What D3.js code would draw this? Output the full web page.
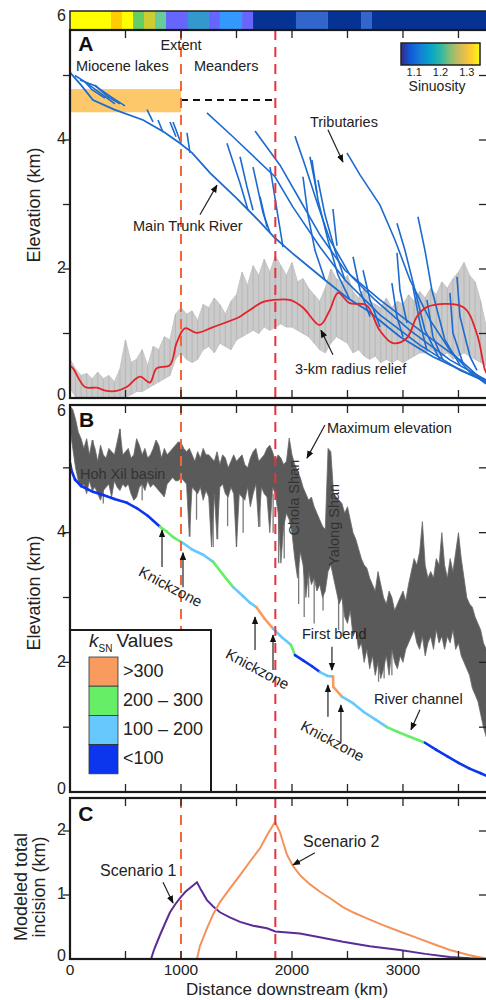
<!DOCTYPE html>
<html>
<head>
<meta charset="utf-8">
<script src="https://cdn.jsdelivr.net/npm/d3@7"></script>
<style>
  body { margin: 0; background: #fff; }
  svg { display: block; font-family: "Liberation Sans", Arial, Helvetica, sans-serif; }
</style>
</head>
<body>
<div id="chart"></div>
<script>
// ---------- data (distance km, elevation km) ----------
const sinuosityKm  = [0, 369, 468, 568, 667, 766, 865, 1063, 1252, 1351, 1550, 1649, 2036, 2324, 2622, 2721];
const sinuosityVal = [1.36, 1.32, 1.36, 1.26, 1.30, 1.24, 1.12, 1.20, 1.12, 1.17, 1.12, 1.05, 1.09, 1.05, 1.09, 1.05];

// 3-km radius relief scatter, sampled every 50 km (low / high of the cloud)
const reliefKm = d3.range(0, 3751, 50);
const reliefHi = [0.6,0.45,0.35,0.38,0.3,0.4,0.3,0.35,0.25,0.45,
  0.9,0.55,0.6,0.75,0.5,0.8,0.75,0.95,0.9,1.3,
  1.4,1.3,1.35,1.2,1.45,1.4,1.55,1.45,1.3,1.5,
  1.6,1.95,1.75,2.05,1.9,2.15,1.95,2.2,2.05,1.9,
  2.1,1.8,1.85,1.7,1.6,1.5,1.7,2.0,1.85,1.8,
  1.9,1.65,1.55,1.7,1.5,1.45,1.4,1.55,1.4,1.5,
  1.45,1.6,1.5,1.65,1.55,1.7,1.6,1.8,1.7,1.85,
  1.95,2.1,1.9,1.8,1.5,1.1];
const reliefLo = [0.15,0.02,0.02,0.0,0.02,0.0,0.02,0.0,0.02,0.0,
  0.02,0.05,0.1,0.1,0.15,0.2,0.25,0.3,0.35,0.6,
  0.7,0.6,0.55,0.6,0.75,0.8,0.7,0.85,0.8,0.75,
  0.9,0.95,1.0,1.05,1.0,1.1,1.05,1.1,1.15,1.1,
  1.1,1.05,1.0,0.95,0.85,0.75,0.7,0.85,0.95,0.9,
  0.85,0.7,0.75,0.65,0.6,0.65,0.55,0.6,0.55,0.6,
  0.55,0.6,0.65,0.7,0.7,0.75,0.7,0.65,0.7,0.6,
  0.65,0.7,0.65,0.6,0.55,0.5];

// smoothed relief (red line)
const reliefLineKm   = [0,27,135,240,330,420,510,630,720,780,900,960,1035,1140,1290,1530,1590,1740,1830,1980,2100,2250,2340,2415,2520,2670,2790,2910,3035,3125,3215,3540,3665,3740,3766];
const reliefLineElev = [0.5,0.46,0.17,0.16,0.11,0.11,0.17,0.33,0.24,0.46,0.51,0.85,1.08,1.01,1.1,1.26,1.33,1.49,1.52,1.52,1.4,1.13,1.36,1.63,1.47,1.44,1.05,0.85,0.93,1.26,1.41,1.41,1.0,0.43,0.35];

// main trunk (panel A)
const trunkKm   = [0,100,207,400,658,850,991,1100,1261,1500,1700,1847,2000,2297,2500,2676,2973,3270,3577,3766];
const trunkElev = [5.05,4.85,4.62,4.47,4.31,4.12,3.95,3.8,3.49,3.1,2.75,2.48,2.25,1.83,1.55,1.36,0.95,0.64,0.39,0.26];

// tributaries [km, elev]
const tributaries = [
  [[45,5.0],[135,4.9],[270,4.73],[405,4.56]],
  [[90,4.93],[225,4.84],[360,4.68],[495,4.53]],
  [[135,4.9],[198,4.78],[315,4.65]],
  [[225,4.85],[342,4.67],[450,4.56]],
  [[694,4.47],[748,4.28]],
  [[793,4.31],[838,4.12]],
  [[901,4.28],[955,4.05]],
  [[928,4.28],[1000,3.95]],
  [[1054,4.11],[1081,3.8]],
  [[1414,3.95],[1532,3.33],[1604,2.91]],
  [[1532,3.74],[1595,3.27],[1649,2.91]],
  [[1649,3.58],[1739,2.87],[1802,2.56]],
  [[1712,3.12],[1775,2.65]],
  [[1802,3.58],[1865,2.91],[1919,2.34]],
  [[1234,4.42],[1468,4.05],[1847,3.43],[2009,2.96],[2252,2.34],[2477,1.83],[2793,1.29],[3153,0.82],[3514,0.43],[3748,0.25]],
  [[1667,4.14],[1892,3.61],[2072,3.07],[2252,2.53],[2477,1.98],[2793,1.52],[3153,1.05],[3514,0.59],[3748,0.23]],
  [[2027,4.06],[2117,3.61],[2234,2.99],[2342,2.45],[2522,1.91],[2748,1.52],[3063,1.05],[3423,0.59],[3748,0.28]],
  [[2495,3.8],[2613,3.46],[2793,2.99],[2928,2.45],[3063,1.83],[3243,1.21],[3423,0.74],[3604,0.4],[3748,0.22]],
  [[2180,3.69],[2234,3.07],[2324,2.45],[2414,1.91],[2522,1.52]],
  [[2234,3.38],[2297,2.84],[2387,2.29],[2477,1.83]],
  [[2162,3.74],[2225,3.18]],
  [[2099,3.43],[2144,2.84],[2207,2.29],[2297,1.83]],
  [[2369,2.93],[2405,2.36]],
  [[2900,1.78],[2946,1.26],[3000,0.95]],
  [[3090,1.72],[3153,1.16],[3216,0.74]],
  [[3216,1.52],[3270,0.95],[3360,0.59]],
  [[3486,1.88],[3514,1.26],[3604,0.64],[3667,0.43]],
  [[3423,1.63],[3450,1.01],[3540,0.54]],
  [[2550,2.19],[2613,1.67],[2703,1.26]],
  [[2640,1.98],[2703,1.52],[2793,1.1]],
  [[2946,2.25],[2973,1.67],[3036,1.16]],
  [[2946,2.71],[3018,2.29],[3108,1.67],[3198,1.05],[3333,0.59]],
  [[3135,2.81],[3198,2.29],[3261,1.67],[3378,0.9],[3514,0.51]]
];

// maximum elevation envelope, every 25 km
const maxKm = d3.range(0, 3751, 25);
const maxHi = [5.95,5.9,5.75,5.55,5.45,5.3,5.45,5.2,5.43,5.3,
  5.1,5.35,5.2,5.15,5.3,5.25,5.2,5.4,5.6,5.2,
  5.25,5.3,5.15,5.2,5.45,5.35,5.2,5.3,5.15,5.2,
  5.3,5.43,5.35,5.15,5.3,5.2,5.25,5.3,5.35,5.4,
  5.39,5.3,5.25,5.3,5.2,5.1,5.25,5.15,5.3,5.2,
  5.2,5.15,5.1,5.25,5.05,5.2,5.15,5.0,5.1,5.2,
  5.1,5.15,5.2,5.05,5.0,5.15,5.25,5.3,5.1,5.15,
  5.2,5.3,5.35,5.25,5.1,5.2,5.15,5.05,5.1,5.46,
  5.2,5.05,4.95,4.85,4.7,4.6,4.5,4.55,4.4,4.3,
  4.2,4.1,4.05,5.3,5.25,4.6,4.55,4.5,4.45,4.3,
  4.4,4.2,4.0,3.9,3.75,3.6,3.5,3.45,3.3,3.2,
  3.1,3.4,3.2,3.0,2.9,3.1,3.0,2.8,2.9,3.0,
  3.1,2.95,3.2,3.4,3.6,3.5,3.7,4.17,3.5,3.3,
  3.4,3.3,3.6,3.5,4.0,3.5,3.3,3.6,3.4,3.7,
  4.0,3.6,3.3,3.0,2.9,2.85,2.7,2.6,2.5,2.3,2.2];
const maxLo = [5.6,5.3,5.0,4.8,4.7,4.75,4.6,4.8,4.65,4.7,
  4.6,4.5,4.65,4.7,4.75,4.55,4.8,4.7,4.65,4.75,
  4.7,4.75,4.6,4.5,4.55,4.7,4.75,4.65,4.8,4.7,
  4.75,4.7,4.65,4.6,4.55,4.75,4.8,4.85,4.8,4.8,
  4.85,4.8,4.75,3.94,4.7,4.65,4.6,4.7,4.5,4.65,
  4.55,3.78,4.6,3.9,4.7,4.75,4.6,4.55,4.7,4.6,
  3.78,4.6,4.55,4.5,4.7,4.4,4.6,4.75,4.09,4.7,
  4.6,4.55,4.0,4.7,4.6,4.3,3.53,4.1,4.3,4.2,
  4.0,3.6,3.3,3.7,3.5,3.0,3.4,3.2,3.3,3.1,
  3.2,3.0,3.1,3.4,3.5,3.3,3.1,2.9,3.0,2.7,
  2.6,2.8,2.4,2.5,2.2,2.3,2.0,2.2,1.9,2.1,
  1.8,2.0,1.75,1.9,2.1,1.8,2.2,2.0,1.9,2.1,
  2.0,2.2,2.3,2.4,2.5,2.3,2.2,2.4,2.1,2.3,
  2.4,2.2,2.5,2.3,2.4,2.2,2.4,2.3,2.5,2.2,
  2.3,2.1,2.0,1.9,1.8,1.6,1.5,1.4,1.2,1.0,0.85];

// thin spikes of the maximum elevation trace
const spikeKm     = [207,300,450,650,1080,1140,1290,1330,1420,1500,1560,1710,1830,1880,1930,2060,2110,2150,2200,2280,2420,2460,2780,2830,2900];
const spikeTop    = [5.0,5.0,5.0,4.9,4.9,4.8,4.8,4.8,4.7,4.8,4.7,4.7,4.6,4.5,4.4,4.0,4.0,3.8,3.6,3.5,3.3,3.2,2.4,2.3,2.4];
const spikeBottom = [5.43,4.45,5.6,4.5,3.94,4.2,3.78,3.9,4.1,3.78,4.0,4.09,4.0,3.53,3.6,2.9,2.7,3.0,2.6,2.8,2.5,2.4,1.7,1.75,1.8];

// river long profile with ksn class of the segment that starts at each point
const riverKm    = [0,15,45,100,207,300,400,514,600,700,811,870,930,1018,1100,1200,1290,1380,1470,1560,1620,1680,1750,1830,1900,1990,2027,2100,2180,2252,2320,2370,2372,2450,2550,2650,2750,2856,2950,3050,3198,3300,3400,3500,3600,3700,3766];
const riverElev  = [5.08,4.95,4.82,4.72,4.63,4.58,4.52,4.46,4.38,4.26,4.09,4.02,3.93,3.84,3.74,3.66,3.55,3.35,3.16,3.02,2.92,2.85,2.68,2.52,2.4,2.27,2.11,2.03,1.94,1.85,1.79,1.78,1.62,1.47,1.37,1.23,1.12,1.0,0.93,0.86,0.76,0.65,0.55,0.45,0.36,0.29,0.24];
const riverClass = ["<100","<100","<100","<100","<100","<100","<100","<100","<100","<100","200 – 300","200 – 300","200 – 300","100 – 200","100 – 200","100 – 200","200 – 300","200 – 300","100 – 200","100 – 200","100 – 200",">300",">300","100 – 200","100 – 200","200 – 300","<100","<100","<100","100 – 200","100 – 200",">300",">300","100 – 200","100 – 200","100 – 200","100 – 200","200 – 300","200 – 300","200 – 300","<100","<100","<100","<100","<100","<100","<100"];
const ksnClasses = [">300", "200 – 300", "100 – 200", "<100"];
const ksnColors  = ["#f99a5e", "#66ee66", "#66c8fc", "#0c36ee"];

// modeled incision (panel C)
const scen1Km   = [0,730,760,811,860,901,950,1000,1040,1081,1144,1180,1234,1290,1351,1440,1532,1650,1775,1850,2072,2250,2459,2700,2973,3200,3423,3600,3766];
const scen1Elev = [0,0,0.16,0.375,0.57,0.73,0.86,0.97,1.05,1.11,1.2,1.08,0.92,0.82,0.73,0.65,0.58,0.52,0.48,0.43,0.4,0.34,0.27,0.2,0.14,0.08,0.03,0.01,0];
const scen2Km   = [0,1144,1170,1234,1290,1351,1440,1532,1620,1712,1780,1847,1870,1892,1920,1955,2010,2072,2160,2252,2360,2459,2549,2680,2820,2970,3126,3280,3423,3600,3766];
const scen2Elev = [0,0,0.2,0.48,0.7,0.89,1.1,1.31,1.52,1.73,1.95,2.14,2.06,1.98,1.82,1.63,1.45,1.31,1.17,1.05,0.93,0.81,0.73,0.63,0.53,0.43,0.33,0.23,0.14,0.06,0];

const boundaryKm = [1000, 1850];
const boundaryColor = ["#f2663a", "#e8323c"];
const xTickLabels = [0, 1000, 2000, 3000];

// ---------- layout ----------
const x  = d3.scaleLinear().domain([0, 3766]).range([70, 488]);
const yA = d3.scaleLinear().domain([0, 6]).range([398, 11]);
const yB = d3.scaleLinear().domain([0, 6]).range([792, 403]);
const yC = d3.scaleLinear().domain([0, 2.5]).range([959, 799]);

const svg = d3.select("#chart").append("svg").attr("width", 486).attr("height", 1000);
const defs = svg.append("defs");

[["clipA", 30, 398], ["clipB", 405, 792], ["clipC", 798, 959]].forEach(([id, t, b]) => {
    defs.append("clipPath").attr("id", id).append("rect")
        .attr("x", 70).attr("y", t).attr("width", 418).attr("height", b - t);
});

defs.append("marker").attr("id", "arrow")
    .attr("viewBox", "0 0 10 10").attr("refX", 9).attr("refY", 5)
    .attr("markerWidth", 8).attr("markerHeight", 8)
    .attr("markerUnits", "userSpaceOnUse").attr("orient", "auto")
    .append("path").attr("d", "M0,1 L10,5 L0,9 z").attr("fill", "#111");

const parula = ["#352a87", "#0f5cdd", "#1481d6", "#06a4ca", "#2eb7a4", "#87bf77", "#d1bb59", "#fec832", "#f9fb0e"];
const grad = defs.append("linearGradient").attr("id", "parula");
parula.forEach((c, i) => grad.append("stop").attr("offset", i / (parula.length - 1)).attr("stop-color", c));

const sinColor = d3.scaleThreshold()
    .domain([1.07, 1.11, 1.15, 1.19, 1.22, 1.25, 1.28, 1.31, 1.34])
    .range(["#063393", "#3366cc", "#6666ff", "#3399ff", "#3399cc", "#66cc99", "#66cc66", "#cccc33", "#ffcc00", "#ffff00"]);
const ksnColor = d3.scaleOrdinal().domain(ksnClasses).range(ksnColors);

function txt(g, s, px, py, size, opts = {}) {
    return g.append("text")
        .attr("x", px).attr("y", py)
        .attr("dominant-baseline", "middle")
        .attr("text-anchor", opts.anchor || "start")
        .attr("font-size", size)
        .attr("font-weight", opts.bold ? "bold" : null)
        .attr("fill", opts.fill || "#222")
        .text(s);
}

function arrows(g, y, list) {
    g.selectAll(null).data(list).join("line")
        .attr("x1", d => x(d[0])).attr("y1", d => y(d[1]))
        .attr("x2", d => x(d[2])).attr("y2", d => y(d[3]))
        .attr("stroke", "#222").attr("stroke-width", 1.2)
        .attr("marker-end", "url(#arrow)");
}

function dashed(g, top, bottom) {
    g.selectAll(null).data(boundaryKm).join("line")
        .attr("x1", d => x(d)).attr("x2", d => x(d))
        .attr("y1", top).attr("y2", bottom)
        .attr("stroke", (d, i) => boundaryColor[i])
        .attr("stroke-width", 2).attr("stroke-dasharray", "10,7");
}

function frame(top, bottom, y, ticks, labels, labelShift) {
    const g = svg.append("g").attr("stroke", "#222").attr("stroke-width", 1.3);
    g.selectAll(null).data(ticks).join("line")
        .attr("x1", 63).attr("x2", 70).attr("y1", d => y(d)).attr("y2", d => y(d));
    g.selectAll(null).data(ticks).join("line")
        .attr("x1", 479).attr("x2", 488).attr("y1", d => y(d)).attr("y2", d => y(d));
    const kmTicks = [500, 1000, 1500, 2000, 2500, 3000, 3500];
    g.selectAll(null).data(kmTicks).join("line")
        .attr("x1", d => x(d)).attr("x2", d => x(d)).attr("y1", top).attr("y2", top + 8);
    g.selectAll(null).data(kmTicks).join("line")
        .attr("x1", d => x(d)).attr("x2", d => x(d)).attr("y1", bottom - 8).attr("y2", bottom);
    svg.append("rect").attr("x", 70).attr("y", top).attr("width", 418).attr("height", bottom - top)
        .attr("fill", "none").attr("stroke", "#1a1a1a").attr("stroke-width", 2.2);
    const lg = svg.append("g");
    labels.forEach(v => txt(lg, v, 66, y(v) + (labelShift[v] || 0), 16, {anchor: "end"}));
}

// ---------- panel A ----------
const gA = svg.append("g").attr("clip-path", "url(#clipA)");

gA.append("rect")
    .attr("x", x(0)).attr("y", yA(4.79))
    .attr("width", x(1000) - x(0)).attr("height", yA(4.43) - yA(4.79))
    .attr("fill", "#fcc86a");
gA.append("line")
    .attr("x1", x(1000)).attr("x2", x(1850)).attr("y1", yA(4.62)).attr("y2", yA(4.62))
    .attr("stroke", "#111").attr("stroke-width", 2).attr("stroke-dasharray", "7,5");

gA.append("path")
    .datum(reliefKm)
    .attr("d", d3.area().x(d => x(d)).y0((d, i) => yA(reliefLo[i])).y1((d, i) => yA(reliefHi[i])))
    .attr("fill", "#cbcbcb").attr("stroke", "#c4c4c4").attr("stroke-width", 1);
gA.selectAll(".streak").data(reliefKm).join("line")
    .attr("x1", d => x(d)).attr("x2", d => x(d))
    .attr("y1", (d, i) => yA(reliefLo[i])).attr("y2", (d, i) => yA(reliefHi[i]))
    .attr("stroke", "#bababa").attr("stroke-width", 1.2);

const lineA = d3.line().x(d => x(d[0])).y(d => yA(d[1]));
gA.selectAll(".trib").data(tributaries).join("path")
    .attr("d", lineA).attr("fill", "none")
    .attr("stroke", "#1b6bd0").attr("stroke-width", 1.6);
gA.append("path")
    .attr("d", lineA(trunkKm.map((k, i) => [k, trunkElev[i]])))
    .attr("fill", "none").attr("stroke", "#1b6bd0").attr("stroke-width", 1.8);

gA.append("path")
    .attr("d", d3.line().curve(d3.curveCatmullRom).x(d => x(d[0])).y(d => yA(d[1]))(reliefLineKm.map((k, i) => [k, reliefLineElev[i]])))
    .attr("fill", "none").attr("stroke", "#e3232a").attr("stroke-width", 1.8);

dashed(gA, 30, 398);

// sinuosity strip
svg.append("g").selectAll("rect").data(sinuosityVal).join("rect")
    .attr("x", (d, i) => x(sinuosityKm[i]))
    .attr("width", (d, i) => x(i + 1 < sinuosityKm.length ? sinuosityKm[i + 1] : 3766) - x(sinuosityKm[i]))
    .attr("y", 11).attr("height", 19)
    .attr("fill", d => sinColor(d));
svg.append("rect").attr("x", 70).attr("y", 11).attr("width", 418).attr("height", 19)
    .attr("fill", "none").attr("stroke", "#222").attr("stroke-width", 1.5);

// sinuosity colour bar
svg.append("rect").attr("x", 401).attr("y", 43).attr("width", 79).attr("height", 22)
    .attr("fill", "url(#parula)").attr("stroke", "#222").attr("stroke-width", 1.5);
const sinScale = d3.scaleLinear().domain([1.05, 1.35]).range([401, 480]);
[1.1, 1.2, 1.3].forEach(v => txt(svg, v.toFixed(1), sinScale(v), 73, 11, {anchor: "middle"}));
txt(svg, "Sinuosity", 437, 87, 14, {anchor: "middle"});

const tA = svg.append("g");
txt(tA, "A", x(75), yA(5.47), 21, {bold: true, fill: "#111"});
txt(tA, "Extent", x(1000), yA(5.46), 14.5, {anchor: "middle"});
txt(tA, "Miocene lakes", x(54), yA(5.13), 14.5);
txt(tA, "Meanders", x(1117), yA(5.13), 14.5);
txt(tA, "Tributaries", x(2162), yA(4.26), 14.5);
txt(tA, "Main Trunk River", x(568), yA(2.65), 14.5);
txt(tA, "3-km radius relief", x(2027), yA(0.43), 14.5);
arrows(tA, yA, [[2324, 4.16, 2459, 3.66], [1171, 2.84, 1324, 3.30], [2369, 0.67, 2261, 1.05]]);

frame(30, 398, yA, [1, 2, 3, 4, 5], [0, 2, 4, 6], {0: -2, 6: 6});

// ---------- panel B ----------
const gB = svg.append("g").attr("clip-path", "url(#clipB)");
gB.selectAll(".spike").data(spikeKm).join("line")
    .attr("x1", d => x(d)).attr("x2", d => x(d))
    .attr("y1", (d, i) => yB(spikeTop[i])).attr("y2", (d, i) => yB(spikeBottom[i]))
    .attr("stroke", "#7a7a7a").attr("stroke-width", 1.3);
gB.append("path")
    .datum(maxKm)
    .attr("d", d3.area().x(d => x(d)).y0((d, i) => yB(maxLo[i])).y1((d, i) => yB(maxHi[i])))
    .attr("fill", "#5a5a5a").attr("stroke", "#6a6a6a").attr("stroke-width", 0.8);

const segs = riverKm.slice(0, -1).map((k, i) => ({
    pts: [[k, riverElev[i]], [riverKm[i + 1], riverElev[i + 1]]],
    cls: riverClass[i]
}));
gB.selectAll(".seg").data(segs).join("path")
    .attr("d", d => d3.line().x(p => x(p[0])).y(p => yB(p[1]))(d.pts))
    .attr("fill", "none").attr("stroke", d => ksnColor(d.cls))
    .attr("stroke-width", 2.6).attr("stroke-linecap", "round");

dashed(gB, 405, 792);

const tB = svg.append("g");
txt(tB, "B", x(81), yB(5.71), 21, {bold: true, fill: "#111"});
txt(tB, "Hoh Xil basin", x(90), yB(4.89), 14.5, {fill: "#333"});
txt(tB, "Maximum elevation", x(2315), yB(5.59), 14.5);
txt(tB, "Chola Shan", 0, 0, 14.5, {anchor: "middle", fill: "#333"})
    .attr("transform", `translate(${x(2027)},${yB(4.54)}) rotate(-90)`);
txt(tB, "Yalong Shan", 0, 0, 14.5, {anchor: "middle", fill: "#333"})
    .attr("transform", `translate(${x(2387)},${yB(4.12)}) rotate(-90)`);
[[901, 3.15], [1685, 1.88], [2360, 0.77]].forEach(([k, e]) =>
    txt(tB, "Knickzone", 0, 0, 15, {anchor: "middle"})
        .attr("transform", `translate(${x(k)},${yB(e)}) rotate(28)`));
txt(tB, "First bend", x(2090), yB(2.42), 14.5);
txt(tB, "River channel", x(2739), yB(1.42), 14.5);
arrows(tB, yB, [
    [2297, 5.66, 2135, 5.15],
    [829, 3.47, 829, 4.04], [1018, 3.16, 1018, 3.69],
    [1667, 2.19, 1667, 2.70], [1829, 1.88, 1829, 2.42],
    [2324, 1.16, 2324, 1.65], [2441, 0.77, 2441, 1.34],
    [2360, 2.24, 2360, 1.88],
    [3153, 1.27, 3072, 0.96]
]);

// ksn legend
const lgB = svg.append("g");
lgB.append("rect").attr("x", 70).attr("y", 630).attr("width", 141).attr("height", 162)
    .attr("fill", "#fff").attr("stroke", "#1a1a1a").attr("stroke-width", 2);
const title = lgB.append("text").attr("x", 89).attr("y", 647).attr("font-size", 19).attr("fill", "#222");
title.append("tspan").attr("font-style", "italic").text("k");
title.append("tspan").attr("font-size", 10).attr("dy", 5).text("SN");
title.append("tspan").attr("dy", -5).attr("dx", 4).text("Values");
lgB.selectAll(".sw").data(ksnClasses).join("rect")
    .attr("x", 89).attr("y", (d, i) => 657 + i * 29.2).attr("width", 29).attr("height", 29.2)
    .attr("fill", d => ksnColor(d)).attr("stroke", "#333").attr("stroke-width", 0.8);
ksnClasses.forEach((c, i) => txt(lgB, c, 123, 672 + i * 29.2, 18));

frame(405, 792, yB, [1, 2, 3, 4, 5], [0, 2, 4, 6], {0: -2, 6: 9});

// ---------- panel C ----------
const gC = svg.append("g").attr("clip-path", "url(#clipC)");
const lineC = d3.line().x(d => x(d[0])).y(d => yC(d[1]));
gC.append("path").attr("d", lineC(scen1Km.map((k, i) => [k, scen1Elev[i]])))
    .attr("fill", "none").attr("stroke", "#5a2d96").attr("stroke-width", 2);
gC.append("path").attr("d", lineC(scen2Km.map((k, i) => [k, scen2Elev[i]])))
    .attr("fill", "none").attr("stroke", "#f4925a").attr("stroke-width", 2);
dashed(gC, 798, 959);

const tC = svg.append("g");
txt(tC, "C", x(75), yC(2.25), 21, {bold: true, fill: "#111"});
txt(tC, "Scenario 2", x(2099), yC(1.81), 16);
txt(tC, "Scenario 1", x(270), yC(1.36), 16);
arrows(tC, yC, [[2207, 1.66, 2009, 1.47], [838, 1.2, 928, 0.875]]);

frame(798, 959, yC, [1, 2], [0, 1, 2], {0: -2});

// x axis labels
xTickLabels.forEach(v => txt(svg, v, x(v), 971, 15.5, {anchor: "middle"}));
txt(svg, "Distance downstream (km)", 287, 991, 17, {anchor: "middle"});

// y axis titles
txt(svg, "Elevation (km)", 0, 0, 18, {anchor: "middle"}).attr("transform", "translate(35,205) rotate(-90)");
txt(svg, "Elevation (km)", 0, 0, 18, {anchor: "middle"}).attr("transform", "translate(35,593) rotate(-90)");
txt(svg, "Modeled total", 0, 0, 18, {anchor: "middle"}).attr("transform", "translate(22,887) rotate(-90)");
txt(svg, "incision (km)", 0, 0, 18, {anchor: "middle"}).attr("transform", "translate(40,887) rotate(-90)");
</script>
</body>
</html>
